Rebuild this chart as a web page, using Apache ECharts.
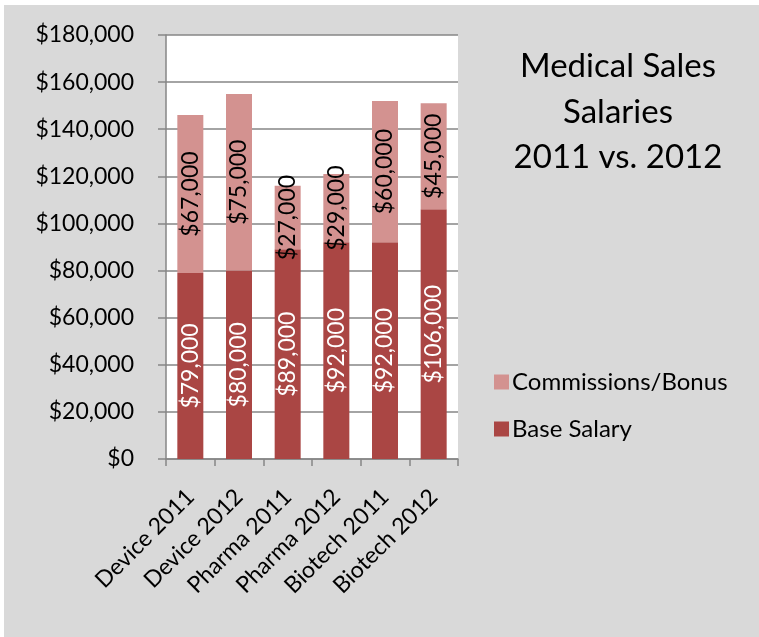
<!DOCTYPE html>
<html><head><meta charset="utf-8">
<script src="https://cdn.jsdelivr.net/npm/echarts@6/dist/echarts.min.js"></script>
<style>html,body{margin:0;padding:0;background:#fff}#c{width:759px;height:637px}</style>
</head><body><div id="c"></div>
<script>
var categories = ['Device 2011','Device 2012','Pharma 2011','Pharma 2012','Biotech 2011','Biotech 2012'];
var baseSalary = [79000, 80000, 89000, 92000, 92000, 106000];
var commissions = [67000, 75000, 27000, 29000, 60000, 45000];
var titleLines = ['Medical Sales', 'Salaries', '2011 vs. 2012'];
var seriesNames = ['Base Salary', 'Commissions/Bonus'];

var FONT = 'Lato';
function money(v){ return '$' + v.toLocaleString('en-US'); }
var chart = echarts.init(document.getElementById('c'));
chart.setOption({
  animation: false,
  backgroundColor: '#ffffff',
  textStyle: {fontFamily: FONT},
  graphic: [
    {type:'rect', z:-10, shape:{x:4,y:5,width:760,height:640}, style:{fill:'#d9d9d9'}},
    {type:'text', x: 618, y: 44, style:{text: titleLines.join('\n'), font:'33px Lato', fill:'#000', align:'center', verticalAlign:'top', lineHeight:45.5}}
  ],
  legend: {
    orient: 'vertical', left: 489, top: 365, itemWidth: 15, itemHeight: 15, itemGap: 23,
    data: [seriesNames[1], seriesNames[0]],
    textStyle: {fontFamily: FONT, fontSize: 24, color: '#000', padding: [0,0,0,-2]}, icon: 'rect'
  },
  grid: {left: 166, right: 301, top: 35, bottom: 178, show: true, backgroundColor: '#fff', borderWidth: 0},
  xAxis: {
    type: 'category', data: categories,
    axisLine: {lineStyle: {color: '#868686', width: 1.5}},
    axisTick: {show: true, length: 7, lineStyle: {color: '#868686', width: 1.5}},
    axisLabel: {rotate: 45, fontFamily: FONT, fontSize: 23, color: '#000', margin: 34, interval: 0}
  },
  yAxis: {
    type: 'value', min: 0, max: 180000, interval: 20000,
    axisLine: {show: true, lineStyle: {color: '#868686', width: 1.5}},
    axisTick: {show: true, length: 8, lineStyle: {color: '#868686', width: 1.5}},
    splitLine: {lineStyle: {color: '#868686', width: 1.5}},
    axisLabel: {fontFamily: FONT, fontSize: 23, color: '#000', margin: 32, formatter: function(v){return money(v);}}
  },
  series: [
    {name: seriesNames[0], type: 'bar', stack: 's', data: baseSalary, barWidth: 26,
     itemStyle: {color: '#aa4644'},
     label: {show: true, position: 'inside', rotate: 90, color: '#fff', fontFamily: FONT, fontSize: 23, formatter: function(p){return money(p.value);}}},
    {name: seriesNames[1], type: 'bar', stack: 's', data: commissions, barWidth: 26,
     itemStyle: {color: '#d39290'},
     label: {show: true, position: 'inside', rotate: 90, color: '#000', fontFamily: FONT, fontSize: 23, formatter: function(p){return money(p.value);}}}
  ]
});
</script></body></html>
